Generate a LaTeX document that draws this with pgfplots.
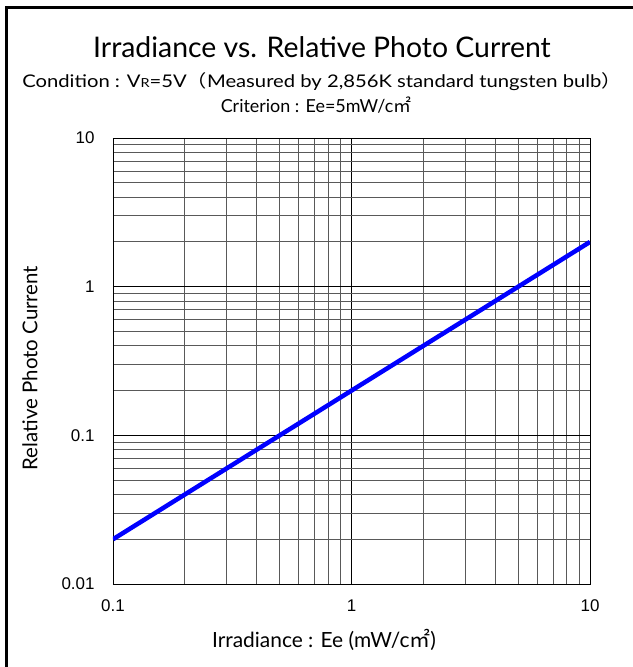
\documentclass[border=0pt]{standalone}
\usepackage{pgfplots}
\pgfplotsset{compat=1.18}
\usepackage{fontspec}
\setmainfont{Lato}
\newfontfamily\tickfont{Liberation Sans}
\newfontfamily\cjk{Noto Sans CJK JP}
\begin{document}
\begin{tikzpicture}[x=1bp,y=1bp]
\path[use as bounding box] (0,0) rectangle (633,-667);
\draw[line width=3bp] (6,-667) -- (6,-8) -- (633,-8);
\node[font=\fontsize{28.5}{32}\selectfont] at (322,-47) {Irradiance vs. Relative Photo Current};
\node[font=\fontsize{17.5}{20}\selectfont] at (322,-82) {\scalebox{1.16}[1]{Condition : V{\fontsize{12.5}{13}\selectfont R}=5V{\cjk（}Measured by 2,856K standard tungsten bulb{\cjk ）}}};
\node[font=\fontsize{18}{20}\selectfont] at (316,-105) {Criterion : Ee=5mW/c{\cjk ㎡}};
\node[font=\fontsize{21}{24}\selectfont] at (324,-640) {Irradiance : Ee (mW/c{\cjk ㎡})};
\node[font=\fontsize{20.5}{24}\selectfont, rotate=90] at (30,-368) {Relative Photo Current};
\begin{axis}[
  at={(113bp,-584bp)}, anchor=south west,
  scale only axis, width=477bp, height=446bp,
  xmode=log, ymode=log,
  xmin=0.1, xmax=10, ymin=0.01, ymax=10,
  xtick={0.1,1,10}, xticklabels={0.1,1,10},
  ytick={0.01,0.1,1,10}, yticklabels={0.01,0.1,1,10},
  minor xtick={0.2,0.3,0.4,0.5,0.6,0.7,0.8,0.9,2,3,4,5,6,7,8,9},
  minor ytick={0.02,0.03,0.04,0.05,0.06,0.07,0.08,0.09,0.2,0.3,0.4,0.5,0.6,0.7,0.8,0.9,2,3,4,5,6,7,8,9},
  grid=both,
  major grid style={black, line width=0.8bp},
  minor grid style={black!65, line width=0.9bp},
  major tick length=0pt, minor tick length=0pt,
  axis line style={black, line width=0.9bp},
  tick label style={font=\tickfont\fontsize{17}{19}\selectfont},
  /pgf/number format/assume math mode=true,
  xticklabel style={yshift=-12bp},
  yticklabel style={xshift=-15bp},
]
\addplot[blue, line width=4.5bp] coordinates {(0.1,0.02) (10,2)};
\end{axis}
\end{tikzpicture}
\end{document}
